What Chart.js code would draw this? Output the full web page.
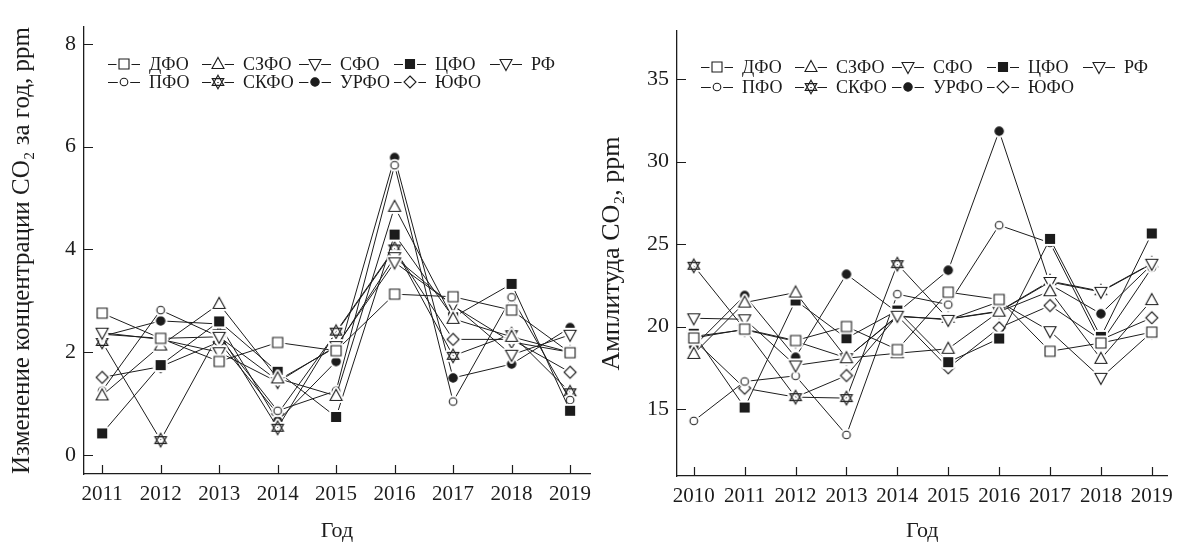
<!DOCTYPE html>
<html>
<head>
<meta charset="utf-8">
<script src="https://cdn.jsdelivr.net/npm/chart.js@4/dist/chart.umd.min.js"></script>
<style>
  body { margin: 0; background: #fff; width: 1181px; height: 549px; position: relative; overflow: hidden; }
  #leftBox { position: absolute; left: 0; top: 0; width: 600px; height: 549px; }
  #rightBox { position: absolute; left: 590px; top: 0; width: 591px; height: 549px; }
</style>
</head>
<body>
<div id="leftBox"><canvas id="deltaChart" width="600" height="549"></canvas></div>
<div id="rightBox"><canvas id="ampChart" width="591" height="549"></canvas></div>
<script>
// legend order: first row ДФО..РФ, second row ПФО..ЮФО
const regions = ["ДФО", "СЗФО", "СФО", "ЦФО", "РФ", "ПФО", "СКФО", "УРФО", "ЮФО"];
const markerKinds = ["square", "triUp", "triDown", "squareFill", "triDown", "circle", "star", "dot", "diamond"];

// left panel: change of CO2 concentration per year, ppm
const deltaYears = [2011, 2012, 2013, 2014, 2015, 2016, 2017, 2018, 2019];
const deltaTicks = [0, 2, 4, 6, 8];
const deltaDFO  = [2.76, 2.27, 1.82, 2.19, 2.03, 3.13, 3.08, 2.82, 1.99];
const deltaSZFO = [1.16, 2.13, 2.94, 1.49, 1.15, 4.83, 2.65, 2.30, 2.00];
const deltaSFO  = [2.38, 2.25, 2.00, 1.42, 2.12, 3.75, 2.92, 1.95, 2.34];
const deltaCFO  = [0.42, 1.75, 2.60, 1.62, 0.74, 4.29, 2.68, 3.33, 0.86];
const deltaRF   = [2.35, 2.27, 2.30, 1.45, 2.10, 3.85, 2.90, 2.20, 2.00];
const deltaPFO  = [1.25, 2.82, 2.30, 0.86, 1.25, 5.64, 1.04, 3.07, 1.07];
const deltaSKFO = [2.20, 0.29, 2.37, 0.53, 2.40, 4.02, 1.93, 2.35, 1.22];
const deltaURFO = [2.31, 2.61, 2.55, 0.66, 1.82, 5.79, 1.50, 1.77, 2.48];
const deltaUFO  = [1.51, 1.72, 2.20, 0.80, 2.38, 4.00, 2.25, 2.25, 1.61];

// right panel: CO2 amplitude, ppm
const ampYears = [2010, 2011, 2012, 2013, 2014, 2015, 2016, 2017, 2018, 2019];
const ampTicks = [15, 20, 25, 30, 35];
const ampDFO  = [19.30, 19.84, 19.15, 20.00, 18.60, 22.08, 21.64, 18.50, 19.00, 19.66];
const ampSZFO = [18.34, 21.45, 22.06, 18.08, 18.38, 18.65, 20.90, 22.14, 18.04, 21.60];
const ampSFO  = [20.50, 20.44, 17.64, 18.08, 20.65, 20.40, 21.50, 19.72, 16.89, 19.66];
const ampCFO  = [19.56, 15.09, 21.58, 19.29, 20.97, 17.84, 19.27, 25.31, 19.37, 25.64];
const ampRF   = [19.40, 19.80, 19.10, 18.10, 20.60, 20.45, 20.90, 22.70, 22.10, 23.80];
const ampPFO  = [14.28, 16.67, 17.01, 13.43, 21.96, 21.33, 26.14, 25.07, 19.00, 23.56];
const ampSKFO = [23.68, 19.84, 15.72, 15.66, 23.78, 20.46, 20.93, 22.75, 22.14, 23.82];
const ampURFO = [18.79, 21.88, 18.14, 23.17, 20.85, 23.41, 31.84, 22.55, 20.77, 23.75];
const ampUFO  = [19.20, 16.26, 15.72, 17.03, 20.65, 17.50, 19.92, 21.27, 19.20, 20.53];

const INK = "#1c1c1c";
const SERIF = "'Liberation Serif', 'DejaVu Serif', serif";

function shapePath(g, kind) {
  g.beginPath();
  switch (kind) {
    case "square": g.rect(-5, -5, 10, 10); break;
    case "squareFill": g.rect(-4.5, -4.5, 9, 9); break;
    case "triUp": g.moveTo(0, -6.5); g.lineTo(6, 4.5); g.lineTo(-6, 4.5); g.closePath(); break;
    case "triDown": g.moveTo(0, 6.5); g.lineTo(6, -4.5); g.lineTo(-6, -4.5); g.closePath(); break;
    case "circle": g.arc(0, 0, 3.8, 0, Math.PI * 2); break;
    case "dot": g.arc(0, 0, 4.2, 0, Math.PI * 2); break;
    case "diamond": g.moveTo(0, -6); g.lineTo(6, 0); g.lineTo(0, 6); g.lineTo(-6, 0); g.closePath(); break;
    case "star":
      g.moveTo(0, -6.8); g.lineTo(5.8, 3.4); g.lineTo(-5.8, 3.4); g.closePath();
      g.moveTo(0, 6.8); g.lineTo(5.8, -3.4); g.lineTo(-5.8, -3.4); g.closePath();
      break;
  }
}

// marker image with a white halo, so lines stop short of the symbol
function makeMarker(kind) {
  const c = document.createElement("canvas");
  c.width = 22; c.height = 22;
  const g = c.getContext("2d");
  g.translate(11, 11);
  const filled = kind === "squareFill" || kind === "dot";
  shapePath(g, kind);
  g.strokeStyle = "#fff"; g.lineWidth = 5; g.lineJoin = "round"; g.stroke();
  shapePath(g, kind);
  g.fillStyle = filled ? INK : "#fff"; g.fill();
  g.strokeStyle = INK; g.lineWidth = 1.1; g.lineJoin = "miter"; g.stroke();
  return c;
}

const markerImages = markerKinds.map(makeMarker);

const innerTicks = {
  id: "innerTicks",
  afterDraw(chart) {
    const { ctx, chartArea } = chart;
    const xs = chart.scales.x, ys = chart.scales.y;
    ctx.save();
    ctx.strokeStyle = INK;
    ctx.lineWidth = 1.2;
    ctx.beginPath();
    xs.ticks.forEach((t) => {
      const px = Math.round(xs.getPixelForValue(t.value)) + 0.5;
      ctx.moveTo(px, chartArea.bottom);
      ctx.lineTo(px, chartArea.bottom - 9);
    });
    ys.ticks.forEach((t) => {
      const py = Math.round(ys.getPixelForValue(t.value)) + 0.5;
      ctx.moveTo(chartArea.left, py);
      ctx.lineTo(chartArea.left + 9, py);
    });
    ctx.stroke();
    ctx.restore();
  },
};

const boxLegend = {
  id: "boxLegend",
  afterDraw(chart, args, opts) {
    const { ctx } = chart;
    ctx.save();
    ctx.font = "18px " + SERIF;
    ctx.fillStyle = INK;
    ctx.textBaseline = "middle";
    chart.data.datasets.forEach((ds, i) => {
      const mx = opts.cols[i % 5];
      const my = opts.rows[Math.floor(i / 5)];
      ctx.strokeStyle = INK;
      ctx.lineWidth = 1;
      ctx.beginPath();
      ctx.moveTo(mx - 16, my + 0.5);
      ctx.lineTo(mx + 16, my + 0.5);
      ctx.stroke();
      const img = markerImages[i];
      ctx.drawImage(img, mx - img.width / 2, my - img.height / 2);
      ctx.fillText(ds.label, mx + 25, my + 1);
    });
    ctx.restore();
  },
};

function buildDatasets(years, series) {
  return series.map((values, i) => ({
    label: regions[i],
    data: years.map((yr, k) => ({ x: yr, y: values[k] })),
    borderColor: INK,
    borderWidth: 1,
    pointStyle: markerImages[i],
    pointRadius: 5,
    pointHoverRadius: 5,
    fill: false,
    tension: 0,
  }));
}

function makeChart(id, cfg) {
  return new Chart(document.getElementById(id), {
    type: "line",
    data: { datasets: buildDatasets(cfg.years, cfg.series) },
    options: {
      responsive: false,
      animation: false,
      events: [],
      layout: { padding: { top: cfg.top, right: cfg.right, left: 0, bottom: 0 } },
      plugins: {
        legend: { display: false },
        tooltip: { enabled: false },
        boxLegend: { cols: cfg.legendCols, rows: cfg.legendRows },
      },
      scales: {
        x: {
          type: "linear",
          min: cfg.xMin,
          max: cfg.xMax,
          afterBuildTicks: (s) => { s.ticks = cfg.years.map((v) => ({ value: v })); },
          afterFit: (s) => { s.height = cfg.xAxisHeight; },
          grid: { display: false, drawTicks: false },
          border: { display: true, color: INK, width: 1.3 },
          ticks: {
            color: INK,
            padding: 8,
            maxRotation: 0,
            autoSkip: false,
            font: { family: SERIF, size: 21 },
            callback: (v) => String(v),
          },
          title: {
            display: true,
            text: "Год",
            color: INK,
            font: { family: SERIF, size: 22 },
            padding: { top: 0, bottom: 5 },
          },
        },
        y: {
          type: "linear",
          min: cfg.yMin,
          max: cfg.yMax,
          afterBuildTicks: (s) => { s.ticks = cfg.yTicks.map((v) => ({ value: v })); },
          afterFit: (s) => { s.width = cfg.yAxisWidth; },
          grid: { display: false, drawTicks: false },
          border: { display: true, color: INK, width: 1.3 },
          ticks: {
            color: INK,
            padding: 8,
            font: { family: SERIF, size: 22 },
            callback: (v) => String(v),
          },
          title: {
            display: true,
            text: cfg.yTitle,
            color: INK,
            font: { family: SERIF, size: cfg.yTitleSize },
            padding: { top: 7, bottom: 0 },
          },
        },
      },
    },
    plugins: [innerTicks, boxLegend],
  });
}

makeChart("deltaChart", {
  years: deltaYears,
  series: [deltaDFO, deltaSZFO, deltaSFO, deltaCFO, deltaRF, deltaPFO, deltaSKFO, deltaURFO, deltaUFO],
  xMin: 2010.69, xMax: 2019.34,
  yMin: -0.37, yMax: 8.33,
  yTicks: deltaTicks,
  yTitle: "Изменение концентрации CO₂ за год, ppm",
  yTitleSize: 25,
  top: 27, right: 10,
  yAxisWidth: 84, xAxisHeight: 75,
  legendCols: [124, 218, 315, 410, 506],
  legendRows: [64, 82],
});

makeChart("ampChart", {
  years: ampYears,
  series: [ampDFO, ampSZFO, ampSFO, ampCFO, ampRF, ampPFO, ampSKFO, ampURFO, ampUFO],
  xMin: 2009.67, xMax: 2019.31,
  yMin: 10.94, yMax: 37.91,
  yTicks: ampTicks,
  yTitle: "Амплитуда CO₂, ppm",
  yTitleSize: 26,
  top: 31, right: 6,
  yAxisWidth: 87, xAxisHeight: 73,
  legendCols: [127, 221, 318, 413, 509],
  legendRows: [67, 87],
});
</script>
</body>
</html>
